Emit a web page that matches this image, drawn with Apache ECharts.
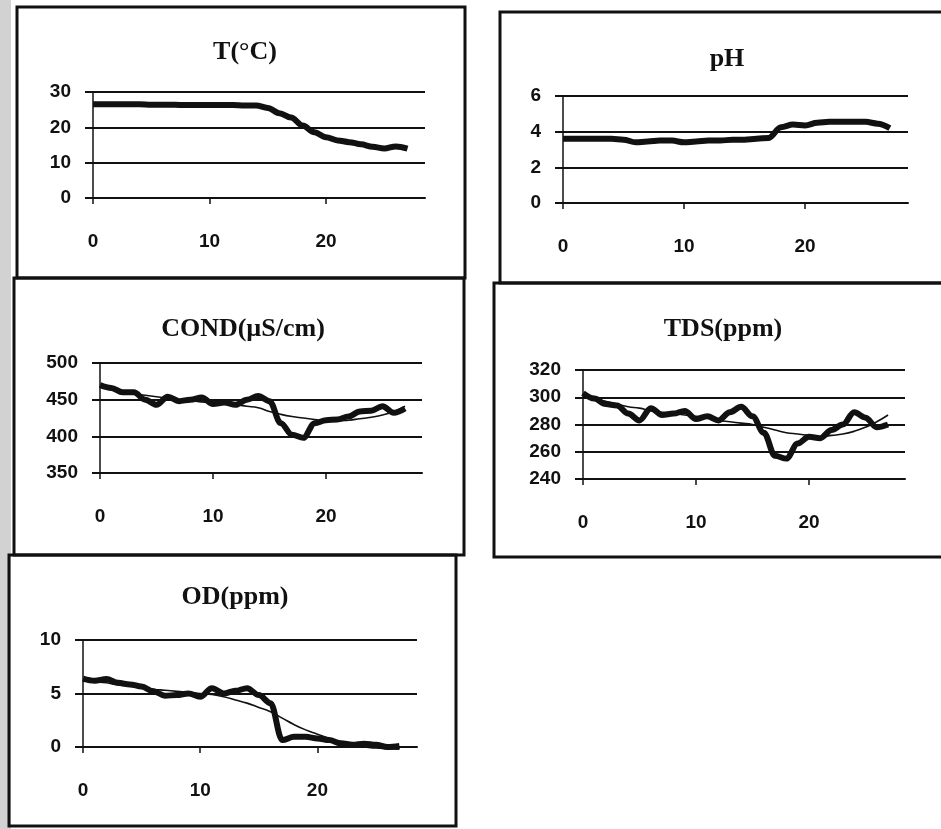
<!DOCTYPE html>
<html>
<head>
<meta charset="utf-8">
<script src="https://cdn.jsdelivr.net/npm/echarts@6/dist/echarts.min.js"></script>
<style>
  html, body { margin: 0; padding: 0; background: #fff; }
  #box { width: 941px; height: 829px; }
</style>
</head>
<body>
<div id="box"></div>
<script>
// days of sampling (x axis)
var days = [0, 1, 2, 3, 4, 5, 6, 7, 8, 9, 10, 11, 12, 13, 14, 15, 16, 17, 18, 19, 20, 21, 22, 23, 24, 25, 26, 27];
var xTicks = [0, 10, 20];

var tempVals = [26.5, 26.5, 26.5, 26.5, 26.5, 26.4, 26.4, 26.4, 26.3, 26.3, 26.3, 26.3, 26.3, 26.2, 26.2, 25.5, 24.0, 22.8, 20.5, 18.6, 17.2, 16.3, 15.8, 15.2, 14.5, 14.0, 14.6, 14.0];
var phVals = [3.6, 3.6, 3.6, 3.6, 3.6, 3.55, 3.4, 3.45, 3.5, 3.5, 3.4, 3.45, 3.5, 3.5, 3.55, 3.55, 3.6, 3.65, 4.25, 4.4, 4.35, 4.5, 4.55, 4.55, 4.55, 4.55, 4.45, 4.2];
var condVals = [470, 466, 460, 460, 450, 443, 454, 448, 450, 453, 444, 446, 443, 450, 455, 448, 418, 402, 398, 418, 422, 423, 427, 434, 435, 441, 432, 438];
var condTrend = [468, 465, 461, 458, 456, 454, 452, 450, 449, 447, 446, 444, 443, 441, 439, 434, 430, 427, 425, 423, 421, 421, 422, 424, 426, 429, 434, 441];
var tdsVals = [303, 299, 295, 294, 288, 283, 292, 287, 288, 290, 284, 286, 283, 289, 293, 286, 274, 257, 255, 266, 271, 270, 276, 280, 289, 285, 278, 280];
var tdsTrend = [301, 299, 297, 295, 293, 292, 290, 289, 288, 287, 286, 285, 283, 282, 281, 280, 278, 276, 274, 273, 272, 271, 272, 273, 275, 278, 282, 287];
var odVals = [6.4, 6.2, 6.35, 6.0, 5.85, 5.65, 5.2, 4.8, 4.85, 5.0, 4.7, 5.5, 5.0, 5.25, 5.5, 4.85, 4.1, 0.65, 0.95, 0.95, 0.8, 0.65, 0.35, 0.2, 0.3, 0.2, 0.0, 0.1];
var odTrend = [6.2, 6.1, 6.0, 5.8, 5.7, 5.6, 5.4, 5.3, 5.2, 5.1, 5.0, 4.9, 4.7, 4.4, 4.1, 3.7, 3.3, 2.7, 2.1, 1.6, 1.2, 0.8, 0.4, 0.2, 0.0, -0.1, -0.15, -0.2];

var titles = ['T(°C)', 'pH', 'COND(µS/cm)', 'TDS(ppm)', 'OD(ppm)'];

var ink = '#111';
var labelFont = { color: ink, fontSize: 19, fontWeight: 'bold', fontFamily: 'Liberation Sans' };

function pairs(vals) {
    var out = [];
    for (var i = 0; i < days.length; i++) out.push([days[i], vals[i]]);
    return out;
}

// plot areas: left, top, width, height (px)
var grids = [
    { left: 93, top: 92, width: 332, height: 106 },
    { left: 563, top: 96, width: 345, height: 107 },
    { left: 100, top: 363, width: 322, height: 110 },
    { left: 583, top: 370, width: 322, height: 109 },
    { left: 83, top: 640, width: 334, height: 107 }
];
var yRanges = [[0, 30, 10], [0, 6, 2], [350, 500, 50], [240, 320, 20], [0, 10, 5]];
var titlePos = [[240, 34], [722, 41], [238, 311], [718, 311], [230, 579]];

var xAxes = [], yAxes = [], titleList = [];
for (var g = 0; g < 5; g++) {
    xAxes.push({
        gridIndex: g, type: 'value', min: 0, max: 28.5,
        axisLine: { show: true, lineStyle: { color: ink, width: 2 } },
        axisTick: { show: true, length: 6, customValues: xTicks, lineStyle: { color: ink, width: 1.5 } },
        axisLabel: Object.assign({ margin: 34, customValues: xTicks }, labelFont),
        splitLine: { show: false }
    });
    yAxes.push({
        gridIndex: g, type: 'value', min: yRanges[g][0], max: yRanges[g][1], interval: yRanges[g][2],
        axisLine: { show: true, lineStyle: { color: ink, width: 1.5 } },
        axisTick: { show: true, length: 8, lineStyle: { color: ink, width: 2 } },
        axisLabel: Object.assign({ margin: 22 }, labelFont),
        splitLine: { show: true, lineStyle: { color: ink, width: 2 } }
    });
    titleList.push({
        text: titles[g], left: titlePos[g][0], top: titlePos[g][1], textAlign: 'center',
        textStyle: { color: ink, fontSize: 26, fontWeight: 'bold', fontFamily: 'Liberation Serif' }
    });
}

function thick(idx, vals) {
    return {
        type: 'line', xAxisIndex: idx, yAxisIndex: idx, data: pairs(vals),
        smooth: 0.35, smoothMonotone: 'x', showSymbol: false, clip: false,
        lineStyle: { color: ink, width: 6 }, z: 5
    };
}
function trend(idx, vals) {
    return {
        type: 'line', xAxisIndex: idx, yAxisIndex: idx, data: pairs(vals),
        smooth: true, showSymbol: false, clip: false,
        lineStyle: { color: ink, width: 1.6 }, z: 4
    };
}

var frame = { fill: 'none', stroke: ink, lineWidth: 3 };
var option = {
    backgroundColor: '#fff',
    animation: false,
    title: titleList,
    grid: grids,
    xAxis: xAxes,
    yAxis: yAxes,
    graphic: [
        // scanner edge on the left
        { type: 'rect', shape: { x: 0, y: 0, width: 11, height: 829 }, style: { fill: '#d2d2d2' } },
        { type: 'rect', shape: { x: 17, y: 7, width: 448, height: 271 }, style: frame },
        { type: 'rect', shape: { x: 14, y: 278, width: 450, height: 277 }, style: frame },
        { type: 'rect', shape: { x: 9, y: 555, width: 447, height: 271 }, style: frame },
        { type: 'rect', shape: { x: 500, y: 12, width: 460, height: 271 }, style: frame },
        { type: 'rect', shape: { x: 494, y: 283, width: 466, height: 274 }, style: frame }
    ],
    series: [
        thick(0, tempVals),
        thick(1, phVals),
        trend(2, condTrend),
        thick(2, condVals),
        trend(3, tdsTrend),
        thick(3, tdsVals),
        trend(4, odTrend),
        thick(4, odVals)
    ]
};

var myChart = echarts.init(document.getElementById('box'));
myChart.setOption(option);
</script>
</body>
</html>
